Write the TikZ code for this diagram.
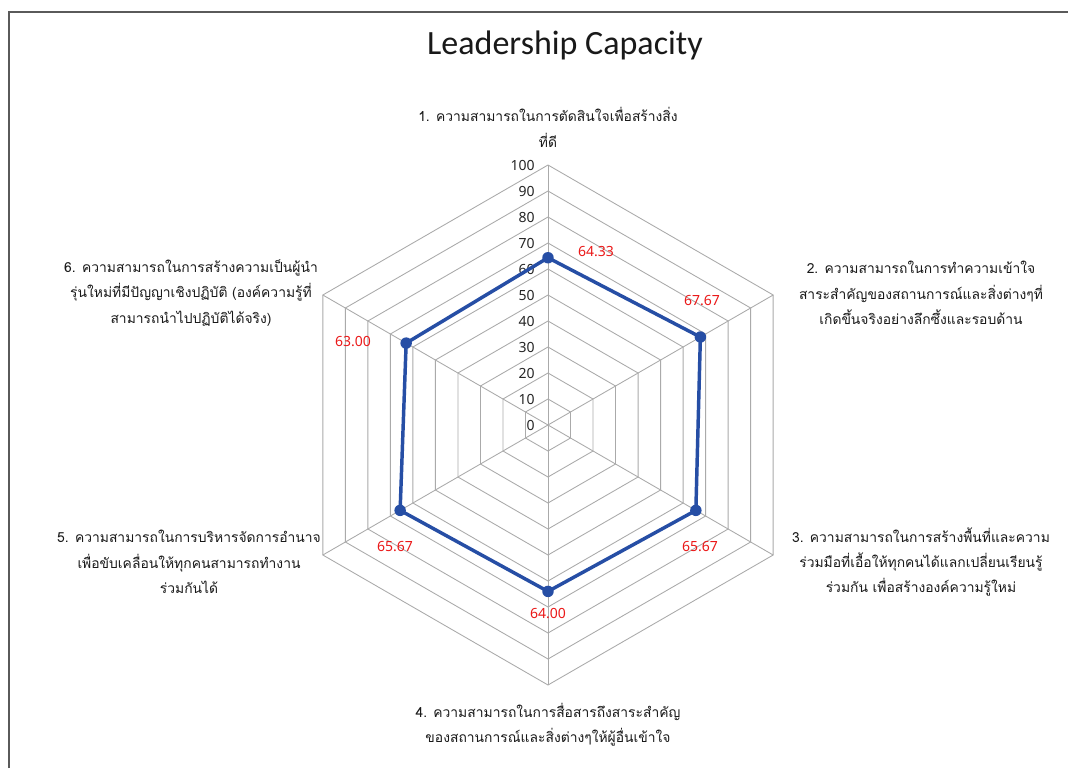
\documentclass[tikz,border=0pt]{standalone}
\usepackage{fontspec}
\setmainfont{Noto Sans}
\newfontfamily\thaifont[Script=Thai]{Loma}
\newfontfamily\titlefont{Carlito}
\usetikzlibrary{calc}
\definecolor{gridc}{RGB}{170,170,170}
\definecolor{serc}{RGB}{38,78,165}
\definecolor{valc}{RGB}{235,25,25}
\definecolor{framec}{RGB}{90,90,90}
\tikzset{
  gridline/.style={draw=gridc, line width=0.65pt},
  series/.style={draw=serc, line width=2.6pt, line join=round},
  axlab/.style={font=\fontsize{10.5}{12}\selectfont, text=black!85, inner sep=0pt, anchor=east},
  vallab/.style={font=\fontsize{10.5}{12}\selectfont, text=valc, inner sep=0pt},
  catlab/.style={font=\thaifont\fontsize{10.4}{19}\selectfont, align=center, text=black!90, inner sep=0pt},
}
\begin{document}
\begin{tikzpicture}[x=0.75pt,y=-0.75pt]
\useasboundingbox (0,0) rectangle (1068,768);
\fill[white] (0,0) rectangle (1068,768);
\coordinate (fBL) at (9,768);
\coordinate (fTL) at (9,12);
\coordinate (fTR) at (1068,12);
\draw[framec, line width=1.1pt] (fBL) -- (fTL) -- (fTR);
\node[font=\titlefont\fontsize{25.5}{30}\selectfont, text=black!90] (title) at (565,45) {Leadership Capacity};
\coordinate (c) at (548,425);
\begin{scope}[shift={(c)}]
  \foreach \k in {1,...,10}{
    \pgfmathsetmacro\r{\k*19.5}
    \draw[gridline] (90:\r pt) -- (30:\r pt) -- (-30:\r pt) -- (-90:\r pt) -- (210:\r pt) -- (150:\r pt) -- cycle;
  }
  \foreach \a/\n in {90/1,30/2,-30/3,-90/4,210/5,150/6}{
    \coordinate (v\n) at (\a:195pt);
    \draw[gridline] (0,0) -- (v\n);
  }
  \foreach \k in {0,...,10}{
    \pgfmathtruncatemacro\lab{\k*10}
    \pgfmathsetmacro\r{\k*19.5}
    \node[axlab] (ax\k) at ([xshift=-9.75pt]90:\r pt) {\lab};
  }
  \coordinate (p1) at (90:125.44pt);
  \coordinate (p2) at (30:131.96pt);
  \coordinate (p3) at (-30:128.06pt);
  \coordinate (p4) at (-90:124.8pt);
  \coordinate (p5) at (210:128.06pt);
  \coordinate (p6) at (150:122.85pt);
\end{scope}
\draw[series] (p1) -- (p2) -- (p3) -- (p4) -- (p5) -- (p6) -- cycle;
\foreach \p in {p1,p2,p3,p4,p5,p6} \fill[serc] (\p) circle (4.3pt);
\node[vallab] (val1) at (596,252) {64.33};
\node[vallab] (val2) at (702,301) {67.67};
\node[vallab] (val3) at (700,547) {65.67};
\node[vallab] (val4) at (548,614) {64.00};
\node[vallab] (val5) at (395,547) {65.67};
\node[vallab] (val6) at (353,342) {63.00};
\node[catlab] (cat1) at (548,127.5) {1. ความสามารถในการตัดสินใจเพื่อสร้างสิ่ง\\ที่ดี};
\node[catlab] (cat2) at (921,293) {2. ความสามารถในการทำความเข้าใจ\\สาระสำคัญของสถานการณ์และสิ่งต่างๆที่\\เกิดขึ้นจริงอย่างลึกซึ้งและรอบด้าน};
\node[catlab] (cat3) at (921,562) {3. ความสามารถในการสร้างพื้นที่และความ\\ร่วมมือที่เอื้อให้ทุกคนได้แลกเปลี่ยนเรียนรู้\\ร่วมกัน เพื่อสร้างองค์ความรู้ใหม่};
\node[catlab] (cat4) at (548,725) {4. ความสามารถในการสื่อสารถึงสาระสำคัญ\\ของสถานการณ์และสิ่งต่างๆให้ผู้อื่นเข้าใจ};
\node[catlab] (cat5) at (189,562) {5. ความสามารถในการบริหารจัดการอำนาจ\\เพื่อขับเคลื่อนให้ทุกคนสามารถทำงาน\\ร่วมกันได้};
\node[catlab] (cat6) at (191,293) {6. ความสามารถในการสร้างความเป็นผู้นำ\\รุ่นใหม่ที่มีปัญญาเชิงปฏิบัติ (องค์ความรู้ที่\\สามารถนำไปปฏิบัติได้จริง)};
\end{tikzpicture}
\end{document}
